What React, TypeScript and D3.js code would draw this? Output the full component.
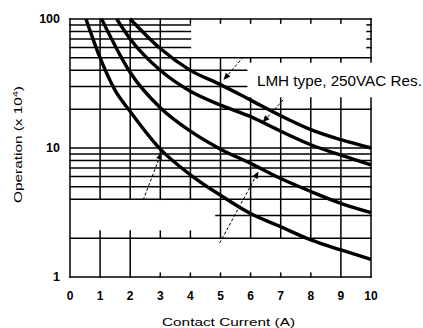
import React from "react";
import * as d3 from "d3";

// ---- data ----
const X_TICKS = [0, 1, 2, 3, 4, 5, 6, 7, 8, 9, 10];
const Y_LABELS = [1, 10, 100];

// horizontal grid lines
const H_FULL = [1, 2, 4, 5, 6, 7, 8, 9, 10, 20, 50, 100];
const H_TOP_LEFT = [60, 70, 80, 90]; // x 0..4
const H_MID_LEFT = [30, 40]; // x 0..5.87
const H_THREE = [3]; // x 4.85..10

// vertical grid segments: [x, yFrom, yTo]
const V_SEGMENTS: [number, number, number][] = [
  [0, 1, 100],
  [1, 4, 100], [1, 1, 2.27],
  [2, 4, 100], [2, 1, 2.27],
  [3, 4, 100], [3, 2, 2.27], [3, 1, 1.07],
  [4, 4, 50], [4, 93, 100], [4, 2, 2.27], [4, 1, 1.07],
  [5, 2, 50], [5, 93, 100], [5, 1, 1.07],
  [6, 2, 24.4], [6, 46.4, 50], [6, 93, 100], [6, 1, 1.07],
  [7, 2, 24.4], [7, 46.4, 50], [7, 93, 100], [7, 1, 1.07],
  [8, 2, 24.4], [8, 46.4, 50], [8, 93, 100], [8, 1, 1.07],
  [9, 1, 24.4], [9, 46.4, 50], [9, 93, 100],
  [10, 1, 24.4], [10, 46.4, 100],
];
const RIGHT_MINOR = [60, 70, 80, 90];

// curves: contact current (A) vs operations (x10^4)
const curveAX = [0.53, 1, 1.5, 2, 3, 4, 5, 6, 7, 8, 9, 10];
const curveAY = [100, 50, 28, 19.2, 9.8, 6.2, 4.3, 3.1, 2.45, 1.94, 1.62, 1.37];
const curveBX = [1.05, 2, 3, 4, 5, 6, 7, 8, 9, 10];
const curveBY = [100, 38.5, 20.5, 13.5, 9.8, 7.6, 5.8, 4.6, 3.72, 3.15];
const curveCX = [1.55, 2, 3, 4, 5, 6, 7, 8, 9, 10];
const curveCY = [100, 70, 40, 27.5, 21.5, 17.5, 13.5, 10.6, 8.8, 7.4];
const curveDX = [2, 3, 4, 5, 6, 7, 8, 9, 10];
const curveDY = [100, 59, 40, 31, 23.5, 17.8, 13.9, 11.6, 10];

// annotation leader arrows: [x0, y0, x1, y1] (arrowhead at x1,y1)
const ARROWS: [number, number, number, number][] = [
  [5.76, 50.8, 5.1, 33.7],
  [7.08, 23.6, 6.4, 15.8],
  [2.43, 3.95, 3.04, 9.23],
  [4.97, 1.83, 6.26, 6.57],
];
const LABEL_TEXT = "LMH type, 250VAC Res.";
const LABEL_POS = [6.21, 30.2];
const X_TITLE = "Contact Current (A)";

export default function App() {
  const W = 423;
  const H = 328;
  const xScale = d3.scaleLinear().domain([0, 10]).range([70, 371]);
  const yScale = d3.scaleLog().domain([1, 100]).range([277, 19]);
  const line = d3
    .line<[number, number]>()
    .x((d) => xScale(d[0]))
    .y((d) => yScale(d[1]))
    .curve(d3.curveMonotoneX);

  const curves = [
    [curveAX, curveAY],
    [curveBX, curveBY],
    [curveCX, curveCY],
    [curveDX, curveDY],
  ].map(([xs, ys]) => xs.map((x, i) => [x, ys[i]] as [number, number]));

  const font = "'Liberation Sans', Arial, Helvetica, sans-serif";
  const gw = 1.5;

  const hLines: [number, number, number][] = [
    ...H_FULL.map((v) => [v, 0, 10] as [number, number, number]),
    ...H_TOP_LEFT.map((v) => [v, 0, 4] as [number, number, number]),
    ...H_MID_LEFT.map((v) => [v, 0, 5.87] as [number, number, number]),
    ...H_THREE.map((v) => [v, 4.85, 10] as [number, number, number]),
  ];

  return (
    <svg
      width={W}
      height={H}
      style={{ position: "absolute", left: 0, top: 0, background: "#fff" }}
    >
      <rect x={0} y={0} width={W} height={H} fill="#fff" />
      <g stroke="#000" strokeWidth={gw} strokeLinecap="square">
        {hLines.map(([v, a, b], i) => (
          <line key={"h" + i} x1={xScale(a)} x2={xScale(b)} y1={yScale(v)} y2={yScale(v)} />
        ))}
        {V_SEGMENTS.map(([x, a, b], i) => (
          <line key={"v" + i} x1={xScale(x)} x2={xScale(x)} y1={yScale(a)} y2={yScale(b)} />
        ))}
        {RIGHT_MINOR.map((v, i) => (
          <line key={"m" + i} x1={xScale(9.87)} x2={xScale(10)} y1={yScale(v)} y2={yScale(v)} />
        ))}
      </g>
      <g fill="none" stroke="#000" strokeWidth={3.4}>
        {curves.map((c, i) => (
          <path key={"c" + i} d={line(c) || ""} />
        ))}
      </g>
      <g>
        {ARROWS.map(([x0, y0, x1, y1], i) => {
          const px0 = xScale(x0), py0 = yScale(y0), px1 = xScale(x1), py1 = yScale(y1);
          const ang = Math.atan2(py1 - py0, px1 - px0);
          const L = 7, Wd = 3;
          const bx = px1 - L * Math.cos(ang), by = py1 - L * Math.sin(ang);
          const nx = -Math.sin(ang) * Wd, ny = Math.cos(ang) * Wd;
          return (
            <g key={"a" + i}>
              <line x1={px0} y1={py0} x2={bx} y2={by} stroke="#000" strokeWidth={1} strokeDasharray="3,2" />
              <path d={`M${px1},${py1}L${bx + nx},${by + ny}L${bx - nx},${by - ny}Z`} fill="#000" />
            </g>
          );
        })}
      </g>
      <g fontFamily={font} fill="#000">
        {Y_LABELS.map((v) => (
          <text key={"yl" + v} x={60} y={yScale(v)} dy="0.35em" textAnchor="end" fontSize={12.5} fontWeight="bold">
            {v}
          </text>
        ))}
        {X_TICKS.map((v) => (
          <text key={"xl" + v} x={xScale(v)} y={300} textAnchor="middle" fontSize={12} fontWeight="bold">
            {v}
          </text>
        ))}
        <text x={162} y={325.5} fontSize={11.5} textLength={133} lengthAdjust="spacingAndGlyphs">
          {X_TITLE}
        </text>
        <text
          transform="translate(22,203) rotate(-90)"
          fontSize={11.5}
          textLength={117}
          lengthAdjust="spacingAndGlyphs"
        >
          Operation (x 10<tspan dy={-4} fontSize={8}>4</tspan><tspan dy={4}>)</tspan>
        </text>
        <text
          x={xScale(LABEL_POS[0])}
          y={yScale(LABEL_POS[1])}
          fontSize={14.5}
          textLength={165}
          lengthAdjust="spacingAndGlyphs"
        >
          {LABEL_TEXT}
        </text>
      </g>
    </svg>
  );
}
